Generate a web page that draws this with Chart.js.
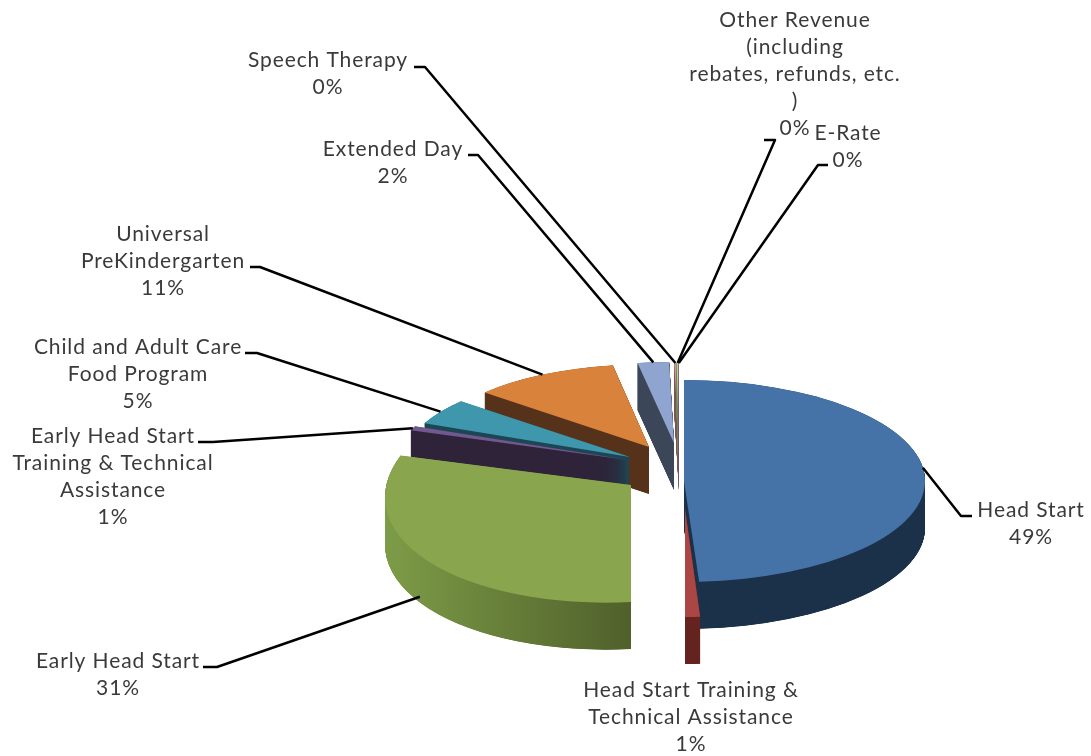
<!DOCTYPE html>
<html>
<head>
<meta charset="utf-8">
<title>Revenue by source</title>
<script src="https://cdn.jsdelivr.net/npm/chart.js@4/dist/chart.umd.min.js"></script>
<style>
    html, body { margin: 0; padding: 0; background: #fff; }
    canvas { display: block; }
</style>
</head>
<body>
<canvas id="pie" width="1091" height="756"></canvas>
<script>
/* data */
const categories = ['Head Start', 'Head Start Training & Technical Assistance', 'Early Head Start',
    'Early Head Start Training & Technical Assistance', 'Child and Adult Care Food Program',
    'Universal PreKindergarten', 'Extended Day', 'Speech Therapy',
    'Other Revenue (including rebates, refunds, etc. )', 'E-Rate'];
const revenueShare = [49, 1, 30.7, 0.8, 4.9, 10.95, 2.3, 0.18, 0.14, 0.03];

/* how each category name wraps on the page */
const labelLines = [
    ['Head Start'],
    ['Head Start Training &', 'Technical Assistance'],
    ['Early Head Start'],
    ['Early Head Start', 'Training & Technical', 'Assistance'],
    ['Child and Adult Care', 'Food Program'],
    ['Universal', 'PreKindergarten'],
    ['Extended Day'],
    ['Speech Therapy'],
    ['Other Revenue', '(including', 'rebates, refunds, etc.', ')'],
    ['E-Rate']
];

/* colours: top face, wall left, wall right */
const faceColors = ['#4573a7', '#aa4643', '#89a54e', '#71588f', '#3f97ae', '#d9823b', '#8fa5cf', '#d09392', '#bad08f', '#a99bbd'];
const wallLeft = ['#1e3a5a', '#64231f', '#7d9c47', '#2e2338', '#1c4654', '#56321a', '#3b4658', '#7a5554', '#76835a', '#5d5568'];
const wallRight = ['#1b3049', '#64231f', '#4b5a28', '#2e2338', '#1c4654', '#56321a', '#3b4658', '#7a5554', '#76835a', '#5d5568'];

/* 3D look: every slice is exploded and flattened on its own (perspective) */
const pieX = 682, pieY = 480, pieDepth = 47;
const explodeX = [2, 3, -51, -54, -52, -33, -8, -3, -3, -3];
const explodeY = [1, 29, 5, -20, -23, -33, -37, -36, -36, -36];
const radiusX = [241, 241, 246, 232, 224, 218, 220, 220, 220, 220];
const radiusY = [101, 108, 117, 85, 85, 83, 81, 81, 81, 81];
const skewY = [0, 0, -0.05, 0, 0, 0, 0, 0, 0, 0];
const drawOrder = [6, 7, 8, 9, 5, 4, 3, 2, 0, 1];

/* label text centre and first line middle */
const labelX = [1031, 691, 118, 113, 138, 163, 393, 328, 795, 848];
const labelY = [510, 690, 661, 436, 347, 234, 149, 60, 20, 133];
const lineHeight = 27;

/* leader lines: points on the label side, and a nudge for the pie end */
const leaderStart = [
    [[972, 516], [961, 516]],
    null,
    [[203, 667], [217, 667]],
    [[198, 442], [213, 442]],
    [[245, 353], [257, 353]],
    [[250, 267], [260, 267]],
    [[468, 155], [478, 155]],
    [[414, 67], [425, 67]],
    [[764, 140], [775, 140]],
    [[828, 165], [818, 165]]
];
const leaderNudgeX = [-2, 0, -9, 0, 0, 0, 0, 0, 0, 0];
const leaderNudgeY = [-10, 0, 35, 0, 0, 0, 0, 0, 0, 0];

const pieRadius = 100;

function sliceTransform(ctx, arc, i) {
    const sx = radiusX[i] / pieRadius;
    const sy = radiusY[i] / pieRadius;
    ctx.translate(pieX + explodeX[i], pieY + explodeY[i]);
    ctx.transform(sx, skewY[i] * sx, 0, sy, 0, 0);
    ctx.translate(-arc.x, -arc.y);
}

/* draw an arc with another fill, without touching the element itself */
function drawArc(ctx, arc, fill) {
    const copy = Object.create(arc);
    copy.options = Object.assign({}, arc.options, { backgroundColor: fill });
    copy.draw(ctx);
}

const pie3d = {
    id: 'pie3d',
    beforeDatasetsDraw(chart) {
        const ctx = chart.ctx;
        const arcs = chart.getDatasetMeta(0).data;
        drawOrder.forEach(i => {
            const arc = arcs[i];
            const grad = ctx.createLinearGradient(arc.x - pieRadius, 0, arc.x + pieRadius * 0.1, 0);
            grad.addColorStop(0, wallLeft[i]);
            grad.addColorStop(1, wallRight[i]);
            for (let k = pieDepth; k > 0; k -= 0.25) {
                ctx.save();
                ctx.translate(0, k);
                sliceTransform(ctx, arc, i);
                drawArc(ctx, arc, grad);
                ctx.restore();
            }
            ctx.save();
            sliceTransform(ctx, arc, i);
            arc.draw(ctx);
            ctx.restore();
        });
        return false;
    },
    afterDraw(chart) {
        const ctx = chart.ctx;
        const arcs = chart.getDatasetMeta(0).data;
        const total = revenueShare.reduce((a, b) => a + b, 0);

        // 引线
        ctx.save();
        ctx.strokeStyle = '#000';
        ctx.lineWidth = 2.5;
        ctx.lineJoin = 'round';
        arcs.forEach((arc, i) => {
            if (!leaderStart[i]) return;
            const mid = (arc.startAngle + arc.endAngle) / 2;
            const px = radiusX[i] * Math.cos(mid);
            const py = radiusY[i] * Math.sin(mid) + skewY[i] * px;
            ctx.beginPath();
            ctx.moveTo(leaderStart[i][0][0], leaderStart[i][0][1]);
            ctx.lineTo(leaderStart[i][1][0], leaderStart[i][1][1]);
            ctx.lineTo(pieX + explodeX[i] + px + leaderNudgeX[i], pieY + explodeY[i] + py + leaderNudgeY[i]);
            ctx.stroke();
        });
        ctx.restore();

        // 标签文字
        ctx.save();
        ctx.font = '21px Lato';
        ctx.letterSpacing = '0.9px';
        ctx.fillStyle = '#3a3a3a';
        ctx.textAlign = 'center';
        ctx.textBaseline = 'middle';
        labelLines.forEach((lines, i) => {
            const pct = Math.round(revenueShare[i] / total * 100) + '%';
            lines.concat(pct).forEach((line, n) => {
                ctx.fillText(line, labelX[i], labelY[i] + n * lineHeight);
            });
        });
        ctx.restore();
    }
};

new Chart(document.getElementById('pie'), {
    type: 'pie',
    data: {
        labels: categories,
        datasets: [{
            data: revenueShare,
            backgroundColor: faceColors,
            borderWidth: 0
        }]
    },
    options: {
        responsive: false,
        animation: false,
        events: [],
        radius: pieRadius,
        layout: { padding: 0 },
        plugins: {
            legend: { display: false },
            tooltip: { enabled: false }
        }
    },
    plugins: [pie3d]
});
</script>
</body>
</html>
